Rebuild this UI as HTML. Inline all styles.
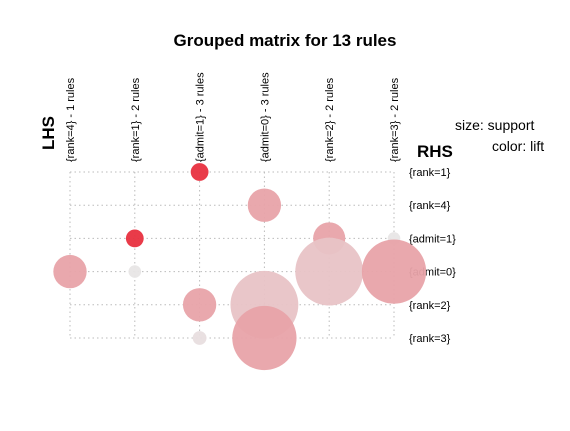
<!DOCTYPE html>
<html><head><meta charset="utf-8"><style>
html,body{margin:0;padding:0;background:#fff;}
svg{display:block;font-family:"Liberation Sans",Arial,sans-serif;}
</style></head><body>
<svg id="chart" width="570" height="431" viewBox="0 0 570 431">
<text x="285" y="46" text-anchor="middle" font-size="17" font-weight="bold">Grouped matrix for 13 rules</text>
<text transform="translate(54,150) rotate(-90)" font-size="17" font-weight="bold">LHS</text>
<text x="417" y="157" font-size="17" font-weight="bold">RHS</text>
<text x="455" y="130" font-size="14">size: support</text>
<text x="492" y="151" font-size="14">color: lift</text>
<g id="grid"></g>
<g id="labels"></g>
<g id="marks"></g>
</svg>
<script>
const lhsLabels = ["{rank=4} - 1 rules","{rank=1} - 2 rules","{admit=1} - 3 rules","{admit=0} - 3 rules","{rank=2} - 2 rules","{rank=3} - 2 rules"];
const rhsLabels = ["{rank=1}","{rank=4}","{admit=1}","{admit=0}","{rank=2}","{rank=3}"];
const ruleLhs = [2,3,1,4,5,0,1,4,5,2,3,2,3];
const ruleRhs = [0,1,2,2,2,3,3,3,3,4,4,5,5];
const support = [0.02,0.07,0.02,0.065,0.01,0.07,0.01,0.29,0.26,0.07,0.29,0.012,0.26];
const lift = [2.0,1.24,2.0,1.24,0.8,1.24,0.8,1.03,1.24,1.24,1.03,0.85,1.24];

const NS="http://www.w3.org/2000/svg";
const x0=70, dx=64.8, y0=172, dy=33.2;
const xs=i=>x0+i*dx, ys=j=>y0+j*dy;
const rScale=s=>63*Math.sqrt(s);
const lmin=0.8,lmax=2.0;
function color(l){const t=Math.max(0,Math.min(1,(l-lmin)/(lmax-lmin)));
 const g=Math.round(230-t*182), b=Math.round(230-t*167);return `rgb(232,${g},${b})`;}
function mk(tag,attrs,parent){const e=document.createElementNS(NS,tag);for(const k in attrs)e.setAttribute(k,attrs[k]);parent.appendChild(e);return e;}
const grid=document.getElementById('grid'),labels=document.getElementById('labels'),marks=document.getElementById('marks');
const xe=xs(lhsLabels.length-1), ye=ys(rhsLabels.length-1);
lhsLabels.forEach((t,i)=>{
 const l=mk('line',{x1:xs(i),x2:xs(i),y1:y0,y2:ye,stroke:'#bbb','stroke-dasharray':'1.5,3'},grid);
 
 
 const tx=mk('text',{transform:`translate(${xs(i)+4},${y0-10}) rotate(-90)`,'font-size':'11'},labels);
 tx.textContent=t;
 
 
});
rhsLabels.forEach((t,j)=>{
 const l=mk('line',{x1:x0,x2:xe,y1:ys(j),y2:ys(j),stroke:'#bbb','stroke-dasharray':'1.5,3'},grid);
 
 
 const tx=mk('text',{x:409,y:ys(j)+4,'font-size':'11'},labels);
 tx.textContent=t;
 
 
});
support.forEach((s,k)=>{
 const c=mk('circle',{cx:xs(ruleLhs[k]),cy:ys(ruleRhs[k]),r:rScale(s),fill:color(lift[k]),'fill-opacity':0.95},marks);
 
 
});
</script>
</body></html>
